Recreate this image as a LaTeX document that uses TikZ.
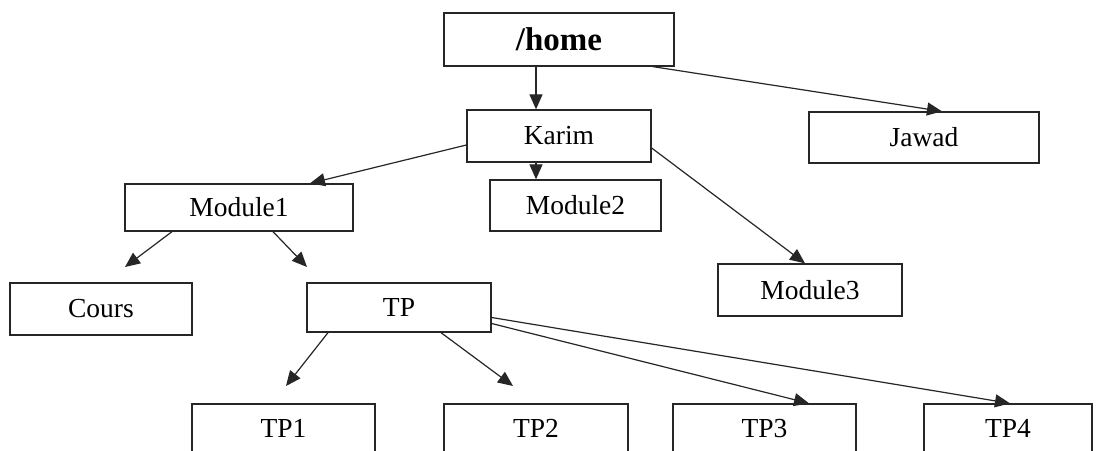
\documentclass[tikz,border=0pt]{standalone}
\usepackage{fontspec}
\setmainfont{Liberation Serif}
\usetikzlibrary{arrows.meta}
\begin{document}
\begin{tikzpicture}[x=1pt,y=-1pt,
  dirbox/.style={draw=black!85,line width=1.3pt,inner sep=0pt,
    font=\fontsize{27.5}{30}\selectfont},
  rootbox/.style={dirbox,font=\fontsize{33}{36}\selectfont\bfseries},
  link/.style={draw=black!85,line width=1.2pt,
    -{Triangle[length=15pt 0 0,width=13pt 0 0]}}]
\useasboundingbox (0,0) rectangle (1100,450);
\clip (0,0) rectangle (1100,450);
\fill[white] (0,0) rectangle (1100,450);

% directory boxes
\node[rootbox,minimum width=230pt,minimum height=53pt] (home) at (559,39.5) {/home};
\node[dirbox,minimum width=184pt,minimum height=52pt] (karim) at (559,136) {Karim};
\node[dirbox,minimum width=230pt,minimum height=51pt] (jawad) at (924,137.5) {Jawad};
\node[dirbox,minimum width=171pt,minimum height=51pt] (module2) at (575.5,205.5) {Module2};
\node[dirbox,minimum width=228pt,minimum height=47pt] (module1) at (239,207.5) {Module1};
\node[dirbox,minimum width=184pt,minimum height=52pt] (module3) at (810,290) {Module3};
\node[dirbox,minimum width=182pt,minimum height=52pt] (cours) at (101,309) {Cours};
\node[dirbox,minimum width=184pt,minimum height=49pt] (tp) at (399,307.5) {TP};
\node[dirbox,minimum width=183pt,minimum height=49pt] (tp1) at (283.5,428.5) {TP1};
\node[dirbox,minimum width=184pt,minimum height=49pt] (tp2) at (536,428.5) {TP2};
\node[dirbox,minimum width=183pt,minimum height=49pt] (tp3) at (764.5,428.5) {TP3};
\node[dirbox,minimum width=168pt,minimum height=49pt] (tp4) at (1008,428.5) {TP4};

% free arrow tips that stop short of their boxes
\coordinate (coursTip) at (125,267);
\coordinate (tpTip) at (307,267);
\coordinate (tp1Tip) at (286,386);
\coordinate (tp2Tip) at (513,386);

% connectors
\draw[link] (home.south -| karim.center) ++(-23,0) coordinate (h0) -- (h0 |- karim.north);
\draw[link] ([xshift=94pt]home.south) -- ([xshift=18pt]jawad.north);
\draw[link] ([xshift=-23pt]karim.south) -- ([xshift=-39.5pt]module2.north);
\draw[link] ([yshift=-9pt]karim.west) -- ([xshift=71pt]module1.north);
\draw[link] ([yshift=-12pt]karim.east) -- ([xshift=-5pt]module3.north);
\draw[link] ([xshift=-67pt]module1.south) -- (coursTip);
\draw[link] ([xshift=34pt]module1.south) -- (tpTip);
\draw[link] ([xshift=-71pt]tp.south) -- (tp1Tip);
\draw[link] ([xshift=42pt]tp.south) -- (tp2Tip);
\draw[link] ([yshift=-16pt]tp.east) -- ([xshift=44.5pt]tp3.north);
\draw[link] ([yshift=-10pt]tp.east) -- ([xshift=2pt]tp4.north);
\end{tikzpicture}
\end{document}
